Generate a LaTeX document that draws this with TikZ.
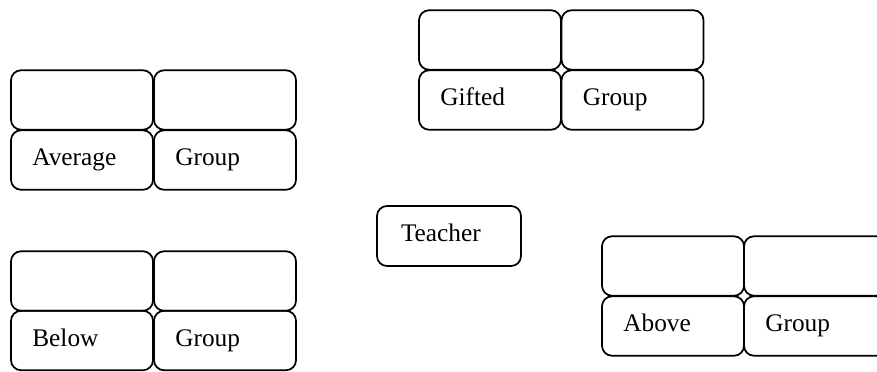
\documentclass[tikz,border=0pt]{standalone}
\usepackage{fontspec}
\setmainfont{Liberation Serif}

\begin{document}
\begin{tikzpicture}[x=0.75pt, y=-0.75pt,
  cell/.style={draw=black, line width=1.3pt, rounded corners=7.5pt,
    minimum width=106.5pt, minimum height=44.6pt, inner xsep=16pt,
    text width=74.5pt, align=left, text height=1em, text depth=0.15em,
    font=\fontsize{19}{22}\selectfont},
  teacherbox/.style={cell, minimum width=108pt, minimum height=45pt,
    inner xsep=18pt, text width=72pt}]

% Page size and clipping
\useasboundingbox (0,0) rectangle (877,371);
\clip (0,0) rectangle (877,371);

% Average group
\node[cell] (avg1) at (82,100) {};
\node[cell] (avg2) at (225,100) {};
\node[cell] (avg3) at (82,160) {Average};
\node[cell] (avg4) at (225,160) {Group};

% Gifted group
\node[cell] (gif1) at (490,40) {};
\node[cell] (gif2) at (632.5,40) {};
\node[cell] (gif3) at (490,100) {Gifted};
\node[cell] (gif4) at (632.5,100) {Group};

% Teacher
\node[teacherbox] (teacher) at (449,236) {Teacher};

% Below group
\node[cell] (bel1) at (82,281) {};
\node[cell] (bel2) at (225,281) {};
\node[cell] (bel3) at (82,340.5) {Below};
\node[cell] (bel4) at (225,340.5) {Group};

% Above group
\node[cell] (abv1) at (673,266) {};
\node[cell] (abv2) at (815,266) {};
\node[cell] (abv3) at (673,326) {Above};
\node[cell] (abv4) at (815,326) {Group};

\end{tikzpicture}
\end{document}
